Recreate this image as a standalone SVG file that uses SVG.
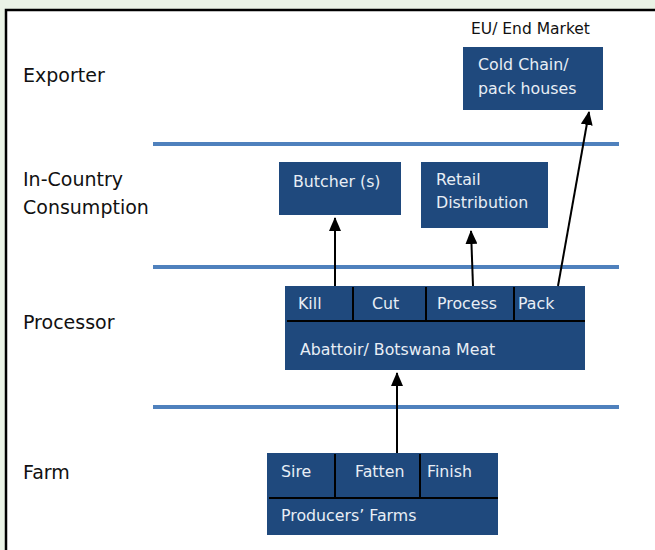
<svg xmlns="http://www.w3.org/2000/svg" width="655" height="550" viewBox="0 0 655 550">
  <style>
    .lvl { font-family: "DejaVu Sans", "Liberation Sans", sans-serif; font-size: 19px; fill: #111; }
    .box { fill: #1f497d; }
    .bt { font-family: "DejaVu Sans", "Liberation Sans", sans-serif; font-size: 15.8px; fill: #e8eef5; }
    .div { stroke: #000; stroke-width: 2; fill: none; }
    .band { stroke: #4f81bd; stroke-width: 4; }
    .conn { stroke: #000; stroke-width: 2; fill: none; marker-end: url(#ah); }
  </style>
  <defs>
    <marker id="ah" viewBox="0 0 14 12" refX="13" refY="6" markerWidth="14" markerHeight="12" markerUnits="userSpaceOnUse" orient="auto">
      <path d="M0,0 L14,6 L0,12 Z" fill="#000"/>
    </marker>
  </defs>

  <!-- page background and frame -->
  <rect x="0" y="0" width="655" height="550" fill="#eaf3e6"/>
  <rect x="6" y="10" width="660" height="560" fill="#fff" stroke="#000" stroke-width="2.5"/>

  <!-- tier separators -->
  <g id="bands">
    <line class="band" x1="153" y1="144" x2="619" y2="144"/>
    <line class="band" x1="153" y1="267" x2="619" y2="267"/>
    <line class="band" x1="153" y1="407" x2="619" y2="407"/>
  </g>

  <!-- tier labels -->
  <g id="labels">
    <text class="lvl" x="23" y="82">Exporter</text>
    <text class="lvl" x="23" y="186">In-Country</text>
    <text class="lvl" x="23" y="214">Consumption</text>
    <text class="lvl" x="23" y="329">Processor</text>
    <text class="lvl" x="23" y="479">Farm</text>
  </g>

  <g id="eu-market">
    <text x="471" y="34" font-family="DejaVu Sans, Liberation Sans, sans-serif" font-size="15.5" fill="#111">EU/ End Market</text>
  </g>

  <g id="cold-chain">
    <rect class="box" x="463" y="47" width="140" height="63"/>
    <text class="bt" x="478" y="70">Cold Chain/</text>
    <text class="bt" x="478" y="94">pack houses</text>
  </g>

  <g id="butcher">
    <rect class="box" x="279" y="162" width="122" height="53"/>
    <text class="bt" x="293" y="187">Butcher (s)</text>
  </g>

  <g id="retail">
    <rect class="box" x="421" y="162" width="127" height="66"/>
    <text class="bt" x="436" y="185">Retail</text>
    <text class="bt" x="436" y="208">Distribution</text>
  </g>

  <g id="abattoir">
    <rect class="box" x="285" y="286" width="300" height="84"/>
    <path class="div" d="M287,321 H585 M353,287 V321 M426,287 V321 M514,287 V321"/>
    <text class="bt" x="298" y="309">Kill</text>
    <text class="bt" x="372" y="309">Cut</text>
    <text class="bt" x="437" y="309">Process</text>
    <text class="bt" x="518" y="309">Pack</text>
    <text class="bt" x="300" y="355">Abattoir/ Botswana Meat</text>
  </g>

  <g id="farms">
    <rect class="box" x="267" y="453" width="231" height="82"/>
    <path class="div" d="M269,498 H498 M335,454 V498 M420,454 V498"/>
    <text class="bt" x="281" y="477">Sire</text>
    <text class="bt" x="355" y="477">Fatten</text>
    <text class="bt" x="427" y="477">Finish</text>
    <text class="bt" x="281" y="521">Producers’ Farms</text>
  </g>

  <!-- flow connectors -->
  <g id="connectors">
    <line class="conn" x1="335" y1="286" x2="335" y2="218"/>
    <line class="conn" x1="473" y1="286" x2="471" y2="231"/>
    <line class="conn" x1="558" y1="286" x2="589" y2="112"/>
    <line class="conn" x1="397" y1="453" x2="397" y2="373"/>
  </g>
</svg>
